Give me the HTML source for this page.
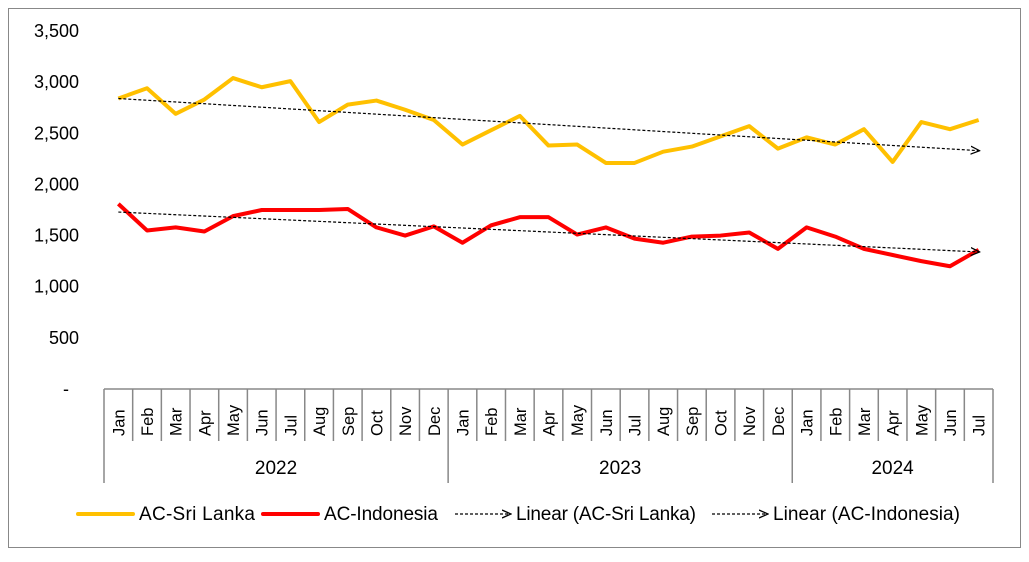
<!DOCTYPE html>
<html><head><meta charset="utf-8"><style>
body{margin:0;background:#fff;}
svg text{font-family:"Liberation Sans",sans-serif;fill:#000;}
</style></head><body>
<svg id="s" width="1029" height="557" xmlns="http://www.w3.org/2000/svg">
<rect x="8.5" y="8.5" width="1012" height="539" fill="#fff" stroke="#888" stroke-width="1"/>
</svg>
<script>
const s=document.getElementById('s');let h='';
const x0=104,x1=993,n=31,w=(x1-x0)/n;const Y=v=>389-v*(358/3500);const X=i=>x0+w*(i+0.5);
for(let v=500;v<=3500;v+=500){h+=`<text x="79" y="${Y(v)+6}" font-size="18" text-anchor="end">${v.toLocaleString('en-US')}</text>`;}
h+=`<text x="66" y="${Y(0)+6}" font-size="18" text-anchor="middle">-</text>`;
h+=`<line x1="${x0}" y1="389" x2="${x1}" y2="389" stroke="#888" stroke-width="1.5"/>`;
const m=['Jan','Feb','Mar','Apr','May','Jun','Jul','Aug','Sep','Oct','Nov','Dec'];
for(let i=0;i<=n;i++){const x=x0+w*i;const yr=(i%12==0||i==n);h+=`<line x1="${x}" y1="389" x2="${x}" y2="${yr?483:441}" stroke="#888" stroke-width="1.5"/>`;}
for(let i=0;i<n;i++){h+=`<text transform="translate(${X(i)+6},436) rotate(-90)" font-size="16.5">${m[i%12]}</text>`;}
[[0,12,'2022'],[12,24,'2023'],[24,31,'2024']].forEach(a=>{h+=`<text x="${x0+w*(a[0]+a[1])/2}" y="474" font-size="19" text-anchor="middle">${a[2]}</text>`;});
const sl=[2840,2940,2690,2830,3040,2950,3010,2610,2780,2820,2730,2630,2390,2530,2670,2380,2390,2210,2210,2320,2370,2470,2570,2350,2460,2390,2540,2220,2610,2540,2630];
const id=[1810,1550,1580,1540,1690,1750,1750,1750,1760,1580,1500,1590,1430,1600,1680,1680,1510,1580,1470,1430,1490,1500,1530,1370,1580,1490,1370,1310,1250,1200,1360];
const pl=(d,c)=>`<polyline fill="none" stroke="${c}" stroke-width="4" stroke-linejoin="round" points="${d.map((v,i)=>X(i)+','+Y(v)).join(' ')}"/>`;
h+=`<defs><marker id="a" markerWidth="10" markerHeight="10" refX="8" refY="5" orient="auto" markerUnits="userSpaceOnUse"><path d="M0,1 L9,5 L0,9" fill="none" stroke="#000" stroke-width="1.3"/></marker></defs>`;
h+=pl(sl,'#FFC000')+pl(id,'#FF0000');
h+=`<line x1="${X(0)}" y1="${Y(2840)}" x2="${X(30)}" y2="${Y(2330)}" stroke="#000" stroke-width="1.2" stroke-dasharray="3,2" marker-end="url(#a)"/>`;
h+=`<line x1="${X(0)}" y1="${Y(1730)}" x2="${X(30)}" y2="${Y(1340)}" stroke="#000" stroke-width="1.2" stroke-dasharray="3,2" marker-end="url(#a)"/>`;
h+=`<line x1="78" y1="514" x2="133" y2="514" stroke="#FFC000" stroke-width="4" stroke-linecap="round"/><text x="139" y="520" font-size="19" textLength="116">AC-Sri Lanka</text>`;
h+=`<line x1="263" y1="514" x2="318" y2="514" stroke="#FF0000" stroke-width="4" stroke-linecap="round"/><text x="324" y="520" font-size="19" textLength="114">AC-Indonesia</text>`;
h+=`<line x1="455" y1="514" x2="510" y2="514" stroke="#000" stroke-width="1.2" stroke-dasharray="3,2" marker-end="url(#a)"/><text x="516" y="520" font-size="19" textLength="180">Linear (AC-Sri Lanka)</text>`;
h+=`<line x1="712" y1="514" x2="767" y2="514" stroke="#000" stroke-width="1.2" stroke-dasharray="3,2" marker-end="url(#a)"/><text x="773" y="520" font-size="19" textLength="187">Linear (AC-Indonesia)</text>`;
s.insertAdjacentHTML('beforeend',h);
</script>
</body></html>
